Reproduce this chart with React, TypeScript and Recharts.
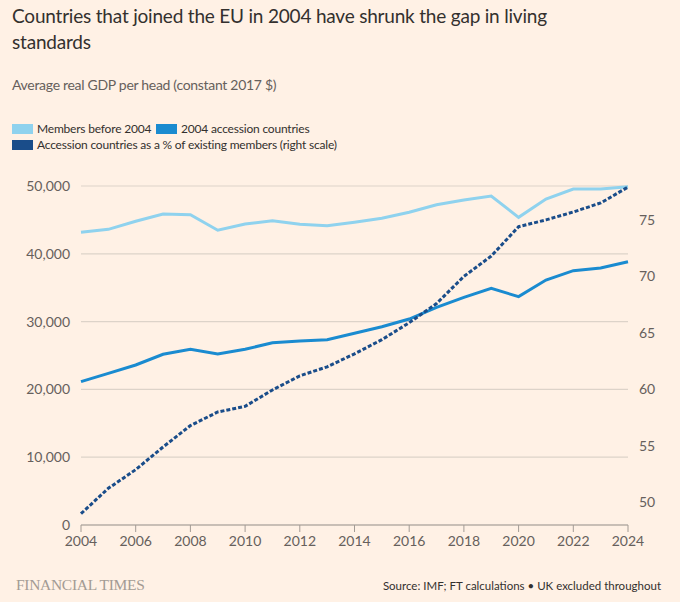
import { LineChart, Line, XAxis, YAxis, CartesianGrid } from "recharts";

const years = [
  2004, 2005, 2006, 2007, 2008, 2009, 2010, 2011, 2012, 2013, 2014, 2015, 2016,
  2017, 2018, 2019, 2020, 2021, 2022, 2023, 2024,
];
const membersBefore = [
  43170, 43610, 44800, 45870, 45770, 43470, 44400, 44880, 44350, 44150, 44650,
  45240, 46120, 47240, 47940, 48530, 45380, 48080, 49560, 49560, 49900,
];
const accession = [
  21140, 22370, 23600, 25180, 25910, 25220, 25910, 26890, 27140, 27330, 28270,
  29250, 30380, 32100, 33580, 34900, 33680, 36130, 37510, 37900, 38840,
];
const ratio = [
  49.0, 51.25, 52.9, 54.9, 56.8, 58.0, 58.5, 59.95, 61.2, 62.0, 63.15, 64.4,
  65.9, 67.6, 70.0, 71.8, 74.4, 75.0, 75.7, 76.5, 77.9,
];
const yearTicks = [2004, 2006, 2008, 2010, 2012, 2014, 2016, 2018, 2020, 2022, 2024];
const leftTicks = [0, 10000, 20000, 30000, 40000, 50000];
const rightTicks = [50, 55, 60, 65, 70, 75];

const data = years.map((year, i) => ({
  year,
  before: membersBefore[i],
  accession: accession[i],
  ratio: ratio[i],
}));

const font = "Lato, 'Open Sans', sans-serif";
const textDark = "#33302e";
const textMid = "#66605c";
const light = "#8fd2ee";
const mid = "#1a8bd0";
const dark = "#1a4d8a";

const swatch = (color: string) => (
  <span
    style={{
      display: "inline-block",
      width: 21,
      height: 10,
      background: color,
      marginRight: 4,
      verticalAlign: -1,
    }}
  />
);

export default function App() {
  const tick = { fill: textMid, fontSize: 14, fontFamily: font };
  return (
    <div
      style={{
        position: "fixed",
        left: 0,
        top: 0,
        width: 680,
        height: 602,
        background: "#fff1e5",
        fontFamily: font,
        overflow: "hidden",
      }}
    >
      <div
        style={{
          position: "absolute",
          left: 12,
          top: 3,
          width: 545,
          fontSize: 19,
          lineHeight: "26px",
          color: textDark,
          letterSpacing: -0.2,
        }}
      >
        Countries that joined the EU in 2004 have shrunk the gap in living standards
      </div>
      <div
        style={{
          position: "absolute",
          left: 12,
          top: 76,
          fontSize: 14,
          color: textMid,
          letterSpacing: -0.3,
        }}
      >
        Average real GDP per head (constant 2017 $)
      </div>
      <div
        style={{
          position: "absolute",
          left: 12,
          top: 121,
          fontSize: 12,
          lineHeight: "16px",
          color: textDark,
          letterSpacing: -0.2,
        }}
      >
        <div>
          {swatch(light)}Members before 2004{" "}
          <span style={{ marginLeft: 2 }}>{swatch(mid)}</span>2004 accession countries
        </div>
        <div>{swatch(dark)}Accession countries as a % of existing members (right scale)</div>
      </div>

      <div style={{ position: "absolute", left: 0, top: 0 }}>
        <LineChart
          width={680}
          height={602}
          data={data}
          margin={{ top: 186, right: 0, bottom: 47, left: 0 }}
        >
          <CartesianGrid yAxisId="left" vertical={false} stroke="#ddd3c9" strokeWidth={1.2} />
          <XAxis
            dataKey="year"
            type="number"
            domain={[2004, 2024]}
            ticks={yearTicks}
            height={30}
            tick={tick}
            tickSize={7}
            tickMargin={4}
            stroke="#a39b94"
            tickLine={{ stroke: "#a39b94" }}
          />
          <YAxis
            yAxisId="left"
            orientation="left"
            width={81}
            domain={[0, 50000]}
            ticks={leftTicks}
            axisLine={false}
            tickLine={false}
            tickMargin={5}
            tick={tick}
            tickFormatter={(v: number) => v.toLocaleString("en-US")}
          />
          <YAxis
            yAxisId="right"
            orientation="right"
            width={52}
            domain={[48, 78]}
            ticks={rightTicks}
            axisLine={false}
            tickLine={false}
            tickMargin={5}
            tick={{ ...tick, textAnchor: "start" }}
          />
          <Line
            yAxisId="left"
            dataKey="before"
            stroke={light}
            strokeWidth={3}
            dot={false}
            isAnimationActive={false}
          />
          <Line
            yAxisId="left"
            dataKey="accession"
            stroke={mid}
            strokeWidth={3}
            dot={false}
            isAnimationActive={false}
          />
          <Line
            yAxisId="right"
            dataKey="ratio"
            stroke={dark}
            strokeWidth={3}
            strokeDasharray="4 2"
            dot={false}
            isAnimationActive={false}
          />
        </LineChart>
      </div>

      <div
        style={{
          position: "absolute",
          left: 16,
          top: 576,
          fontFamily: "'Liberation Serif', 'DejaVu Serif', serif",
          fontSize: 15.5,
          color: "#a39b94",
          letterSpacing: -0.3,
        }}
      >
        FINANCIAL TIMES
      </div>
      <div
        style={{
          position: "absolute",
          right: 19,
          top: 579,
          fontSize: 11.5,
          color: textDark,
        }}
      >
        Source: IMF; FT calculations • UK excluded throughout
      </div>
    </div>
  );
}
